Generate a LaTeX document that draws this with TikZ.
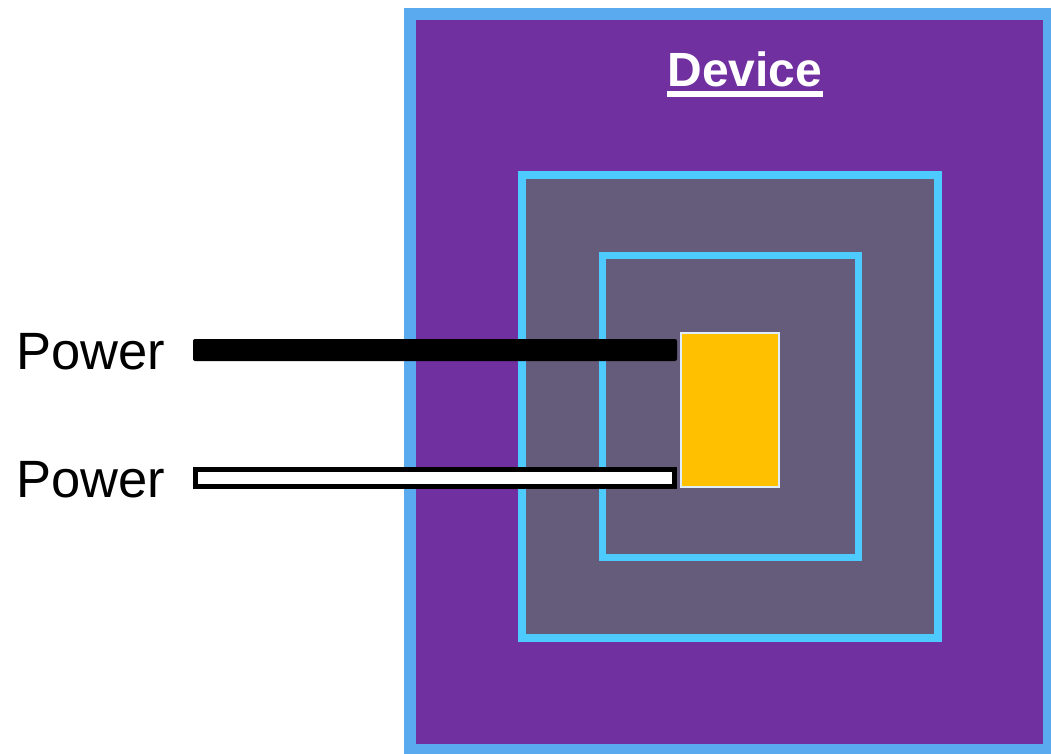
\documentclass[tikz,border=0pt]{standalone}
\usepackage{fontspec}
\setmainfont{Liberation Sans}
\definecolor{outerblue}{HTML}{5AAAF0}
\definecolor{devpurple}{HTML}{7030A0}
\definecolor{cyanline}{HTML}{4DCBFF}
\definecolor{greyfill}{HTML}{655B7B}
\definecolor{chipyellow}{HTML}{FFC000}
\definecolor{chipedge}{HTML}{E0EEFA}
\tikzset{
  box/.style={rectangle, inner sep=0pt, outer sep=0pt},
  lbl/.style={inner sep=0pt, font=\fontsize{52.5}{60}\selectfont, anchor=base west},
}
\begin{document}
\begin{tikzpicture}[x=1pt,y=-1pt]
\useasboundingbox (0,0) rectangle (1051,753);
\fill[white] (0,0) rectangle (1051,753);
\node[box, draw=outerblue, fill=devpurple, line width=12pt, minimum width=639pt, minimum height=736pt] (device) at (729.5,382) {};
\node[box, draw=cyanline, fill=greyfill, line width=8pt, minimum width=416pt, minimum height=463pt] (mid) at (730,406.5) {};
\node[box, draw=cyanline, fill=greyfill, line width=7pt, minimum width=256pt, minimum height=302pt] (inner) at (730,406) {};
\node[box, draw=chipedge, fill=chipyellow, line width=1.5pt, minimum width=98pt, minimum height=154pt] (chip) at (730,410) {};
\node[inner sep=0pt, anchor=base, text=white, font=\fontsize{48}{56}\selectfont\bfseries] (title) at (745,86) {Device};
\draw[white, line width=6pt] ([yshift=-8pt]title.base west) -- ([yshift=-8pt]title.base east);
\node[box, fill=black, rounded corners=2pt, minimum width=484pt, minimum height=22pt] (bar1) at (435,350) {};
\node[box, draw=black, fill=white, line width=5pt, minimum width=479pt, minimum height=17pt] (bar2) at (435,478) {};
\node[lbl] (p1) at (16,369) {Power};
\node[lbl] (p2) at (16,497) {Power};
\end{tikzpicture}
\end{document}
